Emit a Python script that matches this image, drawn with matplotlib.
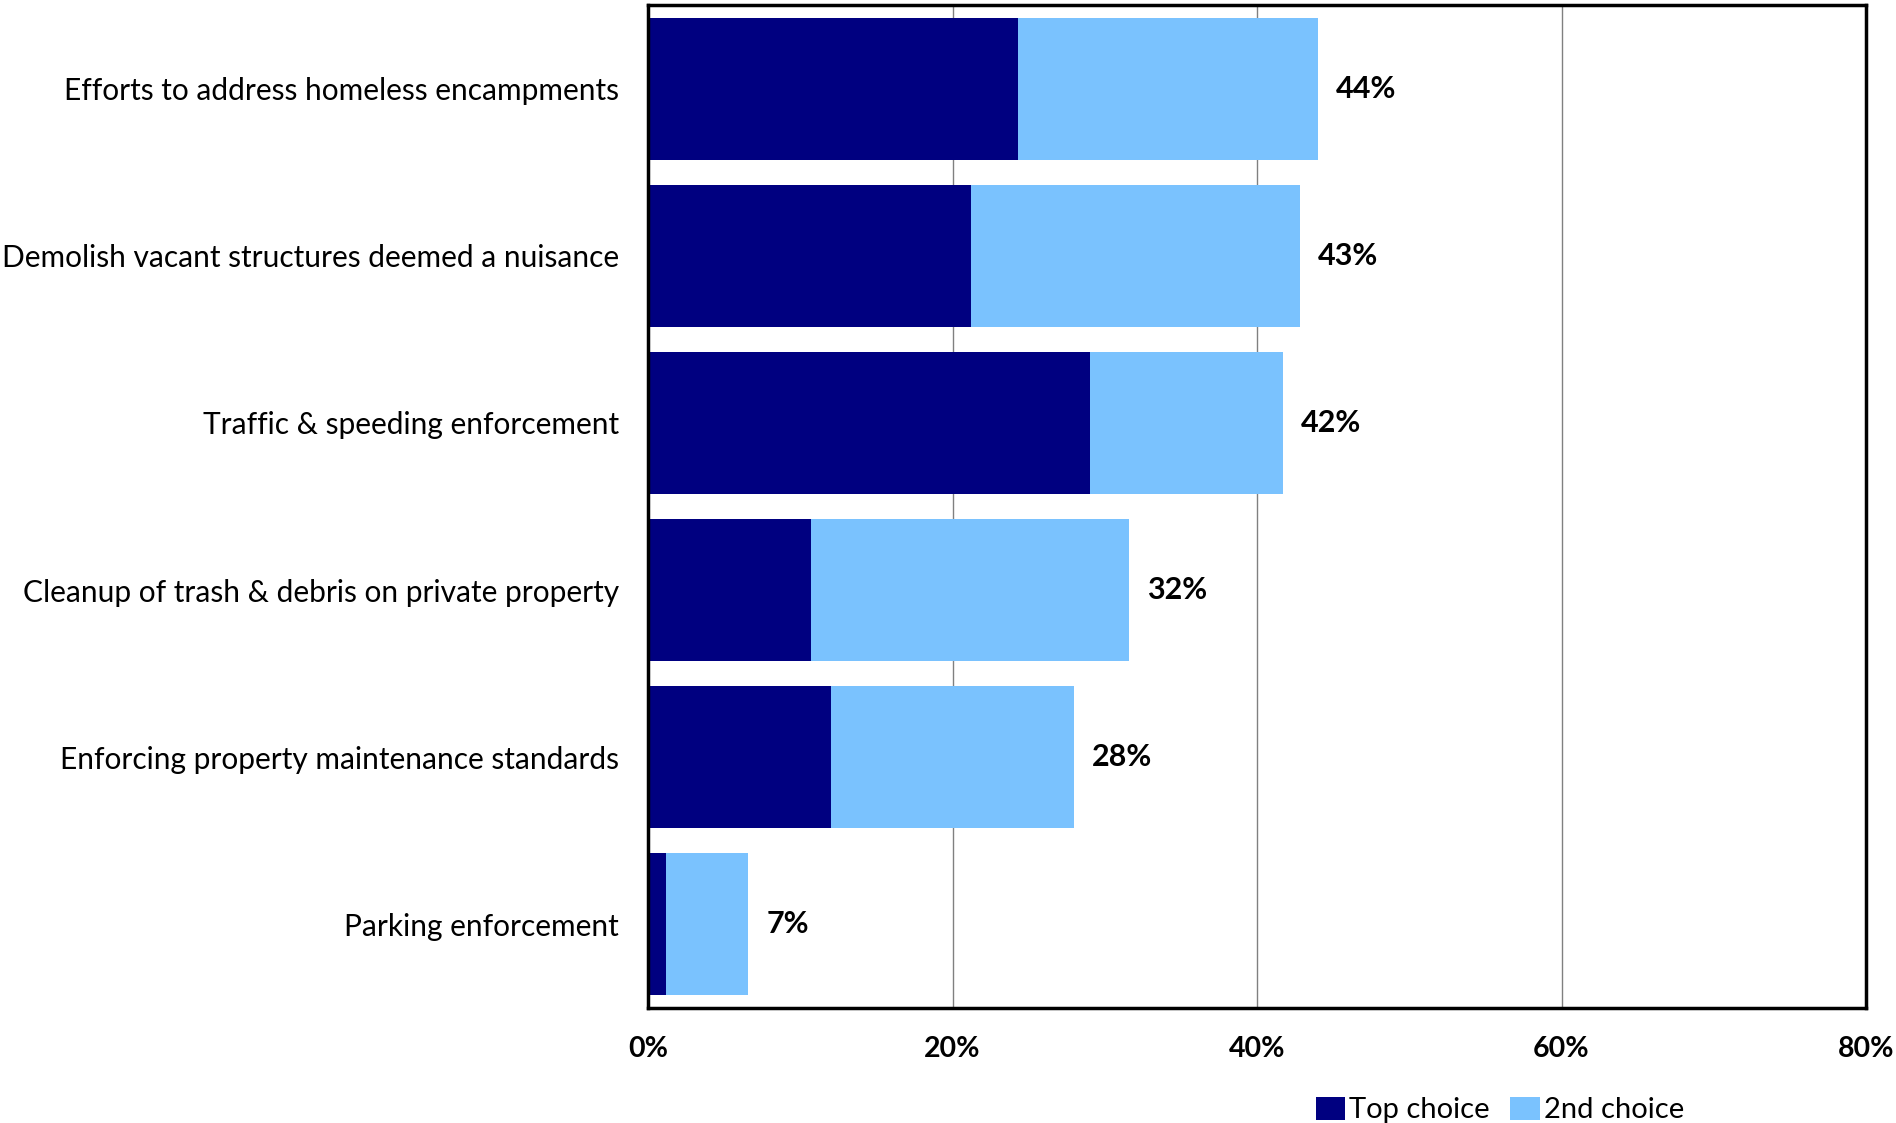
import matplotlib
matplotlib.use("Agg")
import matplotlib.pyplot as plt
from matplotlib.ticker import FuncFormatter

categories = [
    "Efforts to address homeless encampments",
    "Demolish vacant structures deemed a nuisance",
    "Traffic & speeding enforcement",
    "Cleanup of trash & debris on private property",
    "Enforcing property maintenance standards",
    "Parking enforcement",
]
top_choice = [24.3, 21.2, 29.0, 10.7, 12.0, 1.2]
second_choice = [19.7, 21.6, 12.7, 20.9, 16.0, 5.4]
total_labels = ["44%", "43%", "42%", "32%", "28%", "7%"]
xticks = [0, 20, 40, 60, 80]

DARK = "#000080"
LIGHT = "#7AC2FE"

plt.rcParams['font.family'] = ['Lato', 'DejaVu Sans']

fig = plt.figure(figsize=(18.96, 11.23), dpi=100)
ax = fig.add_axes([648/1896, 1-1008/1123, (1866-648)/1896, (1008-5)/1123])

y = list(range(len(categories)))
ax.barh(y, top_choice, height=0.85, color=DARK, label="Top choice", zorder=2)
ax.barh(y, second_choice, left=top_choice, height=0.85, color=LIGHT,
        label="2nd choice", zorder=2)

for i, (a, b, lab) in enumerate(zip(top_choice, second_choice, total_labels)):
    ax.annotate(lab, (a + b, i), xytext=(13, 0), textcoords="offset points",
                va="center", ha="left", fontsize=22, fontweight="bold")

ax.set_xlim(0, 80)
ax.set_ylim(len(categories) - 0.5, -0.5)
ax.set_xticks(xticks)
ax.xaxis.set_major_formatter(FuncFormatter(lambda v, p: f"{v:.0f}%"))
ax.set_yticks(y)
ax.set_yticklabels(categories, fontsize=21.5)
for t in ax.get_xticklabels():
    t.set_fontweight("bold")
    t.set_fontsize(20.5)
ax.tick_params(axis="both", length=0)
ax.tick_params(axis="y", pad=21)
ax.tick_params(axis="x", pad=20)
ax.grid(axis="x", color="#808080", linewidth=1.0, zorder=0)
ax.set_axisbelow(True)
for s in ax.spines.values():
    s.set_linewidth(2.5)
    s.set_color("black")

fig.legend(loc="center", bbox_to_anchor=(1500/1896, 1-1110/1123), ncol=2,
           frameon=False, fontsize=21, handlelength=1.0, handleheight=0.85,
           handletextpad=0.15, columnspacing=0.7, borderaxespad=0)

fig.savefig("out.png", dpi=100)
